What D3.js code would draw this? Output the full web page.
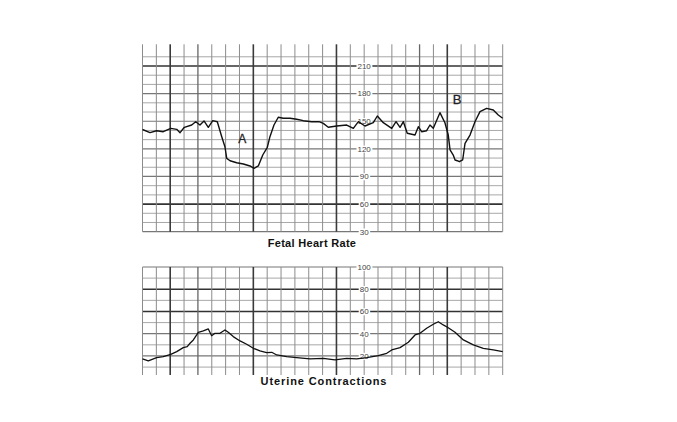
<!DOCTYPE html>
<html>
<head>
<meta charset="utf-8">
<script src="https://cdn.jsdelivr.net/npm/d3@7"></script>
<style>
  html, body { margin: 0; padding: 0; background: #fff; }
  svg { display: block; }
</style>
</head>
<body>
<svg id="chart" width="677" height="422"></svg>
<script>
// ---- Data (time in grid units of ~10 s, 0..26) ----
const fhrTime = [0, 0.54, 1.02, 1.5, 2.04, 2.47, 2.71, 3.02, 3.55, 3.84, 4.15, 4.44, 4.75, 5.07, 5.4,
  5.72, 5.95, 6.08, 6.32, 6.8, 7.28, 7.76, 8.05, 8.36, 8.68, 9.01, 9.2, 9.49, 9.8, 10.16, 10.65,
  11.13, 11.61, 12.21, 12.74, 13.05, 13.41, 14.02, 14.74, 15.22, 15.58, 16.06, 16.66, 16.95, 17.38,
  17.99, 18.3, 18.59, 18.83, 19.11, 19.67, 19.91, 20.15, 20.51, 20.75, 20.99, 21.47, 21.83, 22.07,
  22.2, 22.43, 22.56, 22.72, 22.87, 23.11, 23.28, 23.64, 24.0, 24.36, 24.84, 25.32, 25.68, 26.0];
const fhrBpm = [141, 137.6, 139.7, 138.6, 142.3, 141.2, 137.6, 143.4, 145.9, 149.5, 145.9, 150.3, 143.4, 150.6, 149.5,
  133.2, 122.3, 109.7, 107.1, 104.9, 103.5, 101.4, 98.9, 101.4, 113.3, 121.7, 133.2, 145.9, 154.3, 153.2, 153.2,
  152.1, 150.6, 149.5, 149.5, 147.7, 143.4, 144.8, 145.9, 142.3, 149.5, 144.8, 148.4, 155.7, 148.4,
  142.3, 149.5, 143.4, 149.5, 136.9, 135, 144, 138.6, 139.7, 145.9, 142.3, 159.3, 148.4, 135,
  118.8, 113.3, 107.9, 107.1, 106, 107.9, 126, 135, 149.5, 160.4, 164, 162.2, 156.8, 153.2];

const ucTime = [0, 0.42, 1.02, 1.5, 2.04, 2.47, 2.94, 3.23, 3.43, 3.67, 3.91, 4.03, 4.39, 4.75, 4.99,
  5.23, 5.59, 5.95, 6.19, 6.55, 7.04, 7.52, 8.0, 8.48, 8.96, 9.33, 9.69, 10.41, 11.13, 12.09, 13.05,
  13.89, 14.74, 15.46, 16.18, 17.02, 17.63, 17.99, 18.59, 19.19, 19.67, 20.03, 20.51, 20.99, 21.35,
  21.71, 22.07, 22.56, 23.16, 23.88, 24.6, 25.32, 26.0];
const ucValue = [17.3, 15.5, 18.5, 19.4, 21.5, 23.9, 27.5, 28.4, 31.4, 34.4, 38.9, 41.3, 42.5, 44.3, 38.2,
  40.4, 40.4, 43.4, 41.3, 37.4, 33.5, 30.5, 26.9, 24.5, 23, 23.3, 20.9, 19.4, 18.5, 17.3, 17.9,
  16.4, 17.9, 17.3, 18.5, 20.3, 22.4, 25.4, 27.5, 32.3, 38.9, 40.4, 44.9, 48.5, 50.8,
  47.9, 45.4, 41.3, 34.4, 29.9, 26.9, 25.4, 23.9];

const fhrTicks = [210, 180, 150, 120, 90, 60, 30];
const ucTicks = [100, 80, 60, 40, 20];
const annotations = [{label: "A", t: 7.2, bpm: 131}, {label: "B", t: 22.7, bpm: 174}];
const titles = ["Fetal Heart Rate", "Uterine Contractions"];

// ---- Layout ----
const svg = d3.select("#chart");
const x = d3.scaleLinear().domain([0, 26]).range([142.5, 502.7]);
const yF = d3.scaleLinear().domain([30, 210]).range([231.7, 66]);
const yU = d3.scaleLinear().domain([0, 100]).range([378.2, 267]);
const fTop = 44.3, uBottom = 375;
const labelX = x(16);

const thickCols = new Set([2, 8, 14, 22]);
const midCols = new Set([4, 20]);

function drawGrid(g, yTop, yBot, hVals, yS, thickRows, midRows) {
  hVals.forEach(v => {
    const th = thickRows.includes(v), md = midRows.includes(v);
    g.append("line").attr("x1", x(0)).attr("x2", x(26)).attr("y1", yS(v)).attr("y2", yS(v))
      .attr("stroke", th ? "#333" : (md ? "#777" : "#a8a8a8"))
      .attr("stroke-width", th ? 1.6 : (md ? 1.2 : 1));
  });
  d3.range(0, 27).forEach(i => {
    const th = thickCols.has(i), md = midCols.has(i);
    g.append("line").attr("x1", x(i)).attr("x2", x(i)).attr("y1", yTop).attr("y2", yBot)
      .attr("stroke", th ? "#3a3a3a" : (md ? "#666" : "#8c8c8c"))
      .attr("stroke-width", th ? 1.6 : (md ? 1.3 : 1));
  });
}

const gF = svg.append("g");
drawGrid(gF, fTop, yF(30), d3.range(30, 221, 10), yF, [210, 60], [180, 150, 120, 90, 30]);
const gU = svg.append("g");
drawGrid(gU, yU(100), uBottom, d3.range(10, 101, 10), yU, [80, 60], [100, 40, 20]);

// axis labels with white background
function drawLabels(ticks, yS) {
  ticks.forEach(v => {
    const t = svg.append("text").attr("x", labelX).attr("y", yS(v)).attr("dy", "0.35em")
      .attr("text-anchor", "middle").attr("font-family", "Liberation Sans, Arial, sans-serif")
      .attr("font-size", 8).attr("fill", "#444").text(v);
    const bb = t.node().getBBox();
    svg.insert("rect", () => t.node()).attr("x", bb.x - 1).attr("y", bb.y + 1)
      .attr("width", bb.width + 2).attr("height", bb.height - 2).attr("fill", "#fff");
  });
}
drawLabels(fhrTicks, yF);
drawLabels(ucTicks, yU);

// traces
const lineF = d3.line().x((d, i) => x(fhrTime[i])).y(d => yF(d));
svg.append("path").attr("d", lineF(fhrBpm)).attr("fill", "none").attr("stroke", "#111")
  .attr("stroke-width", 1.4).attr("stroke-linejoin", "round");
const lineU = d3.line().x((d, i) => x(ucTime[i])).y(d => yU(d));
svg.append("path").attr("d", lineU(ucValue)).attr("fill", "none").attr("stroke", "#111")
  .attr("stroke-width", 1.3).attr("stroke-linejoin", "round");

// annotations
annotations.forEach(a => {
  svg.append("text").attr("x", x(a.t)).attr("y", yF(a.bpm)).attr("dy", "0.35em")
    .attr("text-anchor", "middle").attr("font-family", "Liberation Sans, Arial, sans-serif")
    .attr("font-size", a.label === "A" ? 12 : 13).attr("fill", "#222")
    .attr("stroke", "#222").attr("stroke-width", 0.3).text(a.label);
});

// titles
svg.append("text").attr("x", 312).attr("y", 247).attr("text-anchor", "middle")
  .attr("font-family", "Liberation Sans, Arial, sans-serif").attr("font-weight", "bold")
  .attr("font-size", 11).attr("letter-spacing", 0.3).attr("fill", "#111").text(titles[0]);
svg.append("text").attr("x", 324).attr("y", 385).attr("text-anchor", "middle")
  .attr("font-family", "Liberation Sans, Arial, sans-serif").attr("font-weight", "bold")
  .attr("font-size", 11).attr("letter-spacing", 0.9).attr("fill", "#111").text(titles[1]);
</script>
</body>
</html>
